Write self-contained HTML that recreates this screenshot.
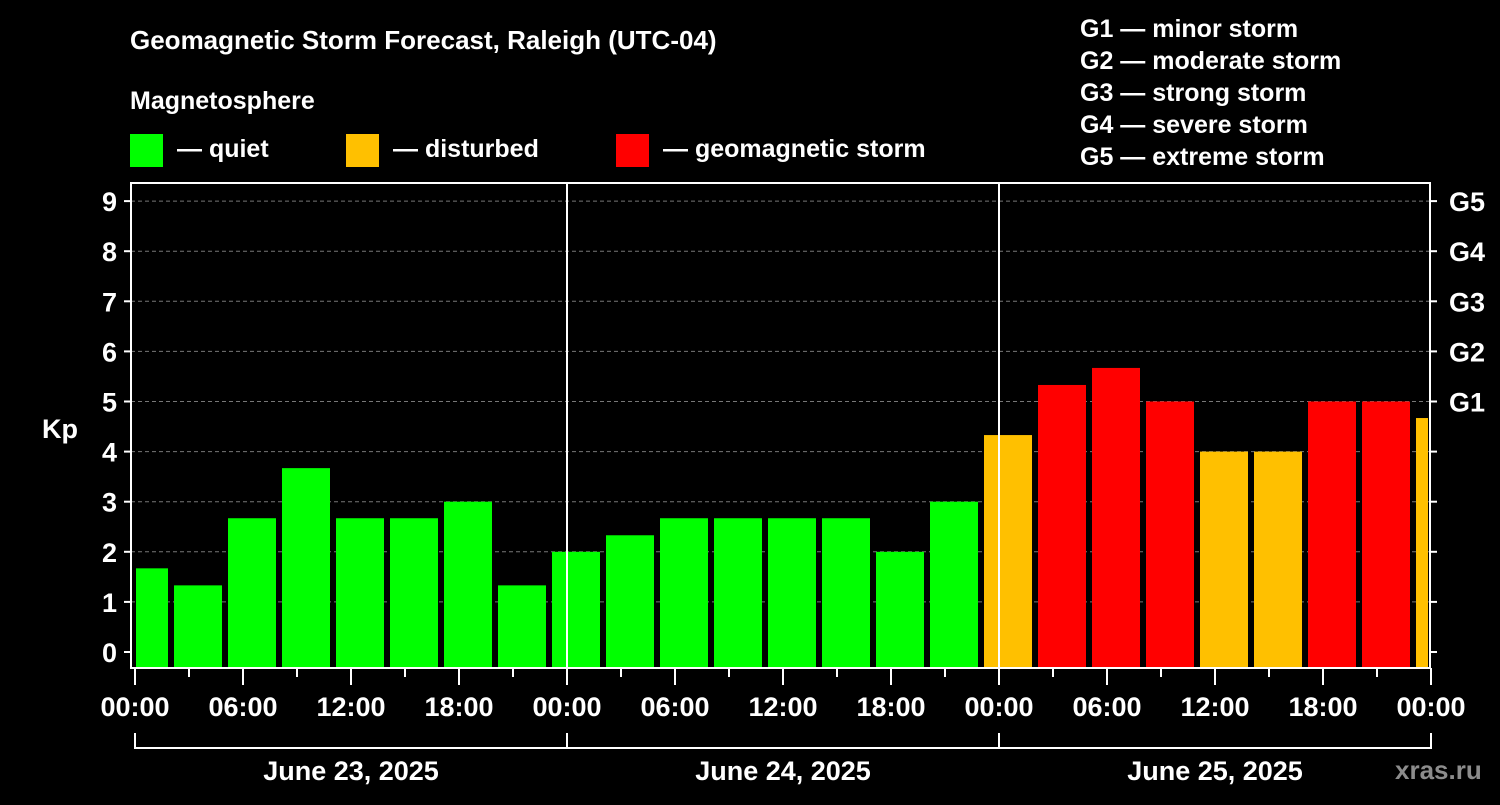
<!DOCTYPE html>
<html><head><meta charset="utf-8"><style>
body{margin:0;background:#000;width:1500px;height:800px;overflow:hidden}
svg text{font-family:"Liberation Sans",Arial,sans-serif;font-weight:bold;fill:#fff}
</style></head><body>
<svg width="1500" height="800">
<rect width="1500" height="800" fill="#000"/>
<text x="130" y="49" font-size="26">Geomagnetic Storm Forecast, Raleigh (UTC-04)</text>
<text x="130" y="109" font-size="25">Magnetosphere</text>
<g><rect x="130" y="134" width="33" height="33" fill="#00ff00"/><text x="177" y="157" font-size="25">— quiet</text></g>
<g><rect x="346" y="134" width="33" height="33" fill="#ffc000"/><text x="393" y="157" font-size="25">— disturbed</text></g>
<g><rect x="616" y="134" width="33" height="33" fill="#ff0000"/><text x="663" y="157" font-size="25">— geomagnetic storm</text></g>
<g font-size="25">
<text x="1080" y="37">G1 — minor storm</text>
<text x="1080" y="69">G2 — moderate storm</text>
<text x="1080" y="101">G3 — strong storm</text>
<text x="1080" y="133">G4 — severe storm</text>
<text x="1080" y="165">G5 — extreme storm</text>
</g>
<text x="42" y="438" font-size="27">Kp</text>
<g id="grid"></g><g id="bars"></g><g id="axes"></g>
<text x="1395" y="779" font-size="26" fill="#888" style="fill:#8c8c8c">xras.ru</text>
</svg>
<script>
const kpValues=[1.67,1.33,2.67,3.67,2.67,2.67,3,1.33, 2,2.33,2.67,2.67,2.67,2.67,2,3, 4.33,5.33,5.67,5,4,4,5,5,4.67];
const dayLabels=["June 23, 2025","June 24, 2025","June 25, 2025"];
const timeLabels=["00:00","06:00","12:00","18:00"];
const gLabels=["G1","G2","G3","G4","G5"];
const NS="http://www.w3.org/2000/svg";
const X0=135,PXH=18,Y0=652,PXK=50.1,TOP=183,BOT=668,LEFT=131,RIGHT=1430;
const xH=h=>X0+h*PXH, yK=k=>Y0-k*PXK;
function mk(t,a,p){const e=document.createElementNS(NS,t);for(const k in a)e.setAttribute(k,a[k]);(p||document.getElementById('axes')).appendChild(e);return e;}
const grid=document.getElementById('grid');
for(let k=1;k<=9;k++){const l=mk('line',{x1:LEFT,x2:RIGHT,y1:yK(k),y2:yK(k),stroke:'#777','stroke-dasharray':'4,3','stroke-width':1},grid);

}
const bars=document.getElementById('bars');
kpValues.forEach((v,i)=>{let s=-1+3*i,e=s+3;s=Math.max(s,0);e=Math.min(e,72);
const x1=xH(s)+(i==0?1:3),x2=xH(e)-3;const y=yK(v);
const c=v>=5?'#ff0000':v>=4?'#ffc000':'#00ff00';
const r=mk('rect',{x:x1,y:y,width:Math.max(x2-x1,1),height:BOT-1-y,fill:c},bars);

});
// frame
const f=mk('rect',{x:LEFT,y:TOP,width:RIGHT-LEFT,height:BOT-TOP,fill:'none',stroke:'#fff','stroke-width':2});


for(let d=1;d<3;d++){const l=mk('line',{x1:xH(24*d),x2:xH(24*d),y1:TOP,y2:BOT,stroke:'#fff','stroke-width':2});

}
for(let k=0;k<=9;k++){mk('line',{x1:LEFT-7,x2:LEFT,y1:yK(k),y2:yK(k),stroke:'#fff','stroke-width':2});
mk('line',{x1:RIGHT,x2:RIGHT+7,y1:yK(k),y2:yK(k),stroke:'#fff','stroke-width':2});
const t=mk('text',{x:LEFT-14,y:yK(k)+10,'font-size':27,'text-anchor':'end'});t.textContent=k;

}
gLabels.forEach((g,i)=>{const t=mk('text',{x:1449,y:yK(5+i)+10,'font-size':27});t.textContent=g;

});
for(let h=0;h<=72;h+=3){const maj=h%6==0;mk('line',{x1:xH(h),x2:xH(h),y1:BOT,y2:BOT+(maj?17:9),stroke:'#fff','stroke-width':2});}
for(let h=0;h<=72;h+=6){const t=mk('text',{x:xH(h),y:716,'font-size':27,'text-anchor':'middle'});t.textContent=timeLabels[(h/6)%4];

}
mk('line',{x1:xH(0),x2:xH(72),y1:748,y2:748,stroke:'#fff','stroke-width':2});
for(let d=0;d<=3;d++)mk('line',{x1:xH(24*d),x2:xH(24*d),y1:733,y2:749,stroke:'#fff','stroke-width':2});
dayLabels.forEach((s,d)=>{const t=mk('text',{x:xH(24*d+12),y:780,'font-size':27,'text-anchor':'middle'});t.textContent=s;

});
</script>
</body></html>
